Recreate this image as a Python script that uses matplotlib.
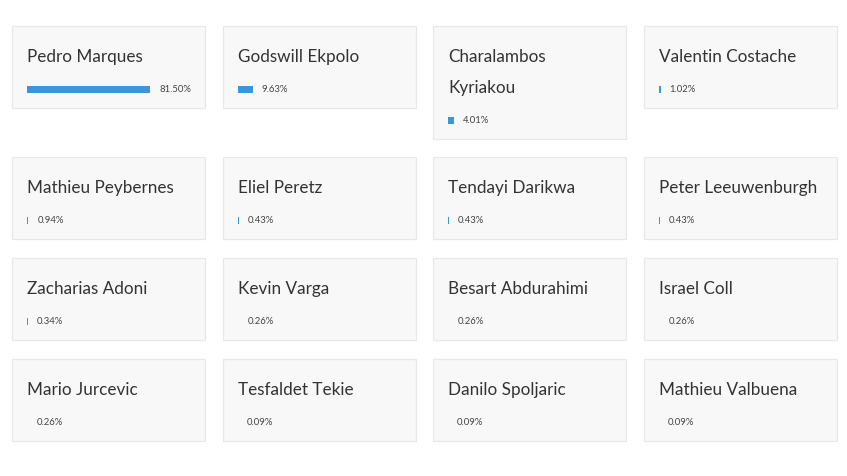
import matplotlib.pyplot as plt
from matplotlib.patches import Rectangle

names = ["Pedro Marques", "Godswill Ekpolo", "Charalambos Kyriakou", "Valentin Costache",
         "Mathieu Peybernes", "Eliel Peretz", "Tendayi Darikwa", "Peter Leeuwenburgh",
         "Zacharias Adoni", "Kevin Varga", "Besart Abdurahimi", "Israel Coll",
         "Mario Jurcevic", "Tesfaldet Tekie", "Danilo Spoljaric", "Mathieu Valbuena"]
shares = [81.50, 9.63, 4.01, 1.02,
          0.94, 0.43, 0.43, 0.43,
          0.34, 0.26, 0.26, 0.26,
          0.26, 0.09, 0.09, 0.09]
labels = ["%.2f%%" % v for v in shares]

W, H = 847, 476
fig = plt.figure(figsize=(W / 100, H / 100), dpi=100)
ax = fig.add_axes([0, 0, 1, 1])
ax.set_xlim(0, W)
ax.set_ylim(H, 0)
ax.axis("off")

col_x = [12, 223, 433, 644]
card_w = 193
line_h = 31
px_per_pct = 1.51

top = 26
for r in range(4):
    row = list(range(r * 4, r * 4 + 4))
    heights = []
    for i in row:
        lines = names[i].split(" ", 1) if len(names[i]) > 19 else [names[i]]
        heights.append(82 + line_h * (len(lines) - 1))
    row_h = max(heights)
    for c, i in enumerate(row):
        x0 = col_x[c]
        name = names[i]
        lines = name.split(" ", 1) if len(name) > 19 else [name]
        ax.add_patch(Rectangle((x0, top), card_w, heights[c], facecolor="#f8f8f8",
                               edgecolor="#e8e8e8", linewidth=0.9))
        for k, ln in enumerate(lines):
            ax.text(x0 + 15, top + 31 + k * line_h, ln, fontsize=12.3, family="Lato",
                    color="#333333", va="center", ha="left")
        by = top + 63.5 + line_h * (len(lines) - 1)
        w = shares[i] * px_per_pct
        ax.barh(by, w, height=7.5, left=x0 + 15, color="#3a96d8")
        ax.text(x0 + 15 + w + 9, by, labels[i], fontsize=6.8, family="Lato",
                color="#444444", va="center", ha="left")
    top += row_h + (18 if r == 0 else 19)

fig.savefig("out.png", dpi=100, facecolor="white")
